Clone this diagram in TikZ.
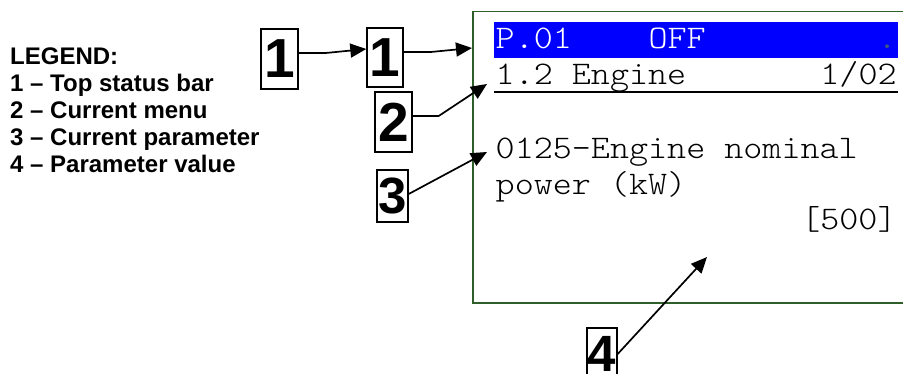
\documentclass[tikz,border=0pt]{standalone}
\usepackage{fontspec}
\setmainfont{Liberation Sans}
\newfontfamily\lcdfont[FakeStretch=1.10]{Latin Modern Mono Light}
\usetikzlibrary{arrows.meta}
\definecolor{lcdgreen}{RGB}{47,95,40}
\definecolor{lcdblue}{RGB}{0,0,255}
\definecolor{dotc}{RGB}{60,90,130}
\begin{document}
\begin{tikzpicture}[x=1pt,y=-1pt,
  legend/.style={anchor=base west, inner sep=0pt, font=\fontsize{24}{27}\selectfont\bfseries},
  lcd/.style={anchor=base west, inner sep=0pt, font=\lcdfont\fontsize{33}{36}\selectfont},
  numbox/.style={draw, line width=1.4pt, inner sep=0pt, font=\fontsize{55}{55}\selectfont\bfseries},
  smallbox/.style={numbox, font=\fontsize{51}{51}\selectfont\bfseries},
  arr/.style={line width=1.7pt, -{Triangle[length=16pt,width=14pt]}}]
\useasboundingbox (0,0) rectangle (903,374);
% display
\draw[lcdgreen, line width=1.5pt] (473,11.5) rectangle (930,303);
\fill[lcdblue] (494,21.7) rectangle (898,58.3);
\draw[line width=2pt] (494,92.3) -- (898,92.3);
% display text
\node[lcd, text=white] (p01) at (495.5,49) {P.01};
\node[lcd, text=white] (off) at (648.3,49) {OFF};
\node[lcd, text=dotc] (dot) at (877.5,49) {.};
\node[lcd] (menu) at (495.5,85) {1.2 Engine};
\node[lcd] (pg) at (820.2,85) {1/02};
\node[lcd] (par1) at (495.5,159) {0125-Engine nominal};
\node[lcd] (par2) at (495.5,195) {power (kW)};
\node[lcd] (val) at (801.1,230) {[500]};
% legend
\node[legend] (lg0) at (10,65) {LEGEND:};
\node[legend] (lg1) at (10,92) {1 – Top status bar};
\node[legend] (lg2) at (10,119) {2 – Current menu};
\node[legend] (lg3) at (10,146) {3 – Current parameter};
\node[legend] (lg4) at (10,173) {4 – Parameter value};
% number boxes
\node[numbox, minimum width=37pt, minimum height=60pt] (b1a) at (279.5,59) {1};
\node[numbox, minimum width=36pt, minimum height=59pt] (b1b) at (385,57.5) {1};
\node[numbox, minimum width=37pt, minimum height=60pt] (b2) at (393.5,122) {2};
\node[smallbox, minimum width=31pt, minimum height=52pt] (b3) at (392.5,196) {3};
\node[smallbox, minimum width=30pt, minimum height=52pt] (b4) at (602,354) {4};
% arrow targets
\coordinate (t1) at (472,48);
\coordinate (t2) at (487,84);
\coordinate (t3) at (487,152);
\coordinate (t4) at (707,257);
% connectors
\draw[arr] ([yshift=6pt]b1a.east) -- ++(27,0) -- ([yshift=8.5pt]b1b.west);
\draw[arr] ([yshift=5.5pt]b1b.east) -- ++(27,0) -- (t1);
\draw[arr] ([yshift=6pt]b2.east) -- ++(26,0) -- (t2);
\draw[arr] ([yshift=2pt]b3.east) -- (t3);
\draw[arr] (b4.east) -- (t4);
\end{tikzpicture}
\end{document}
